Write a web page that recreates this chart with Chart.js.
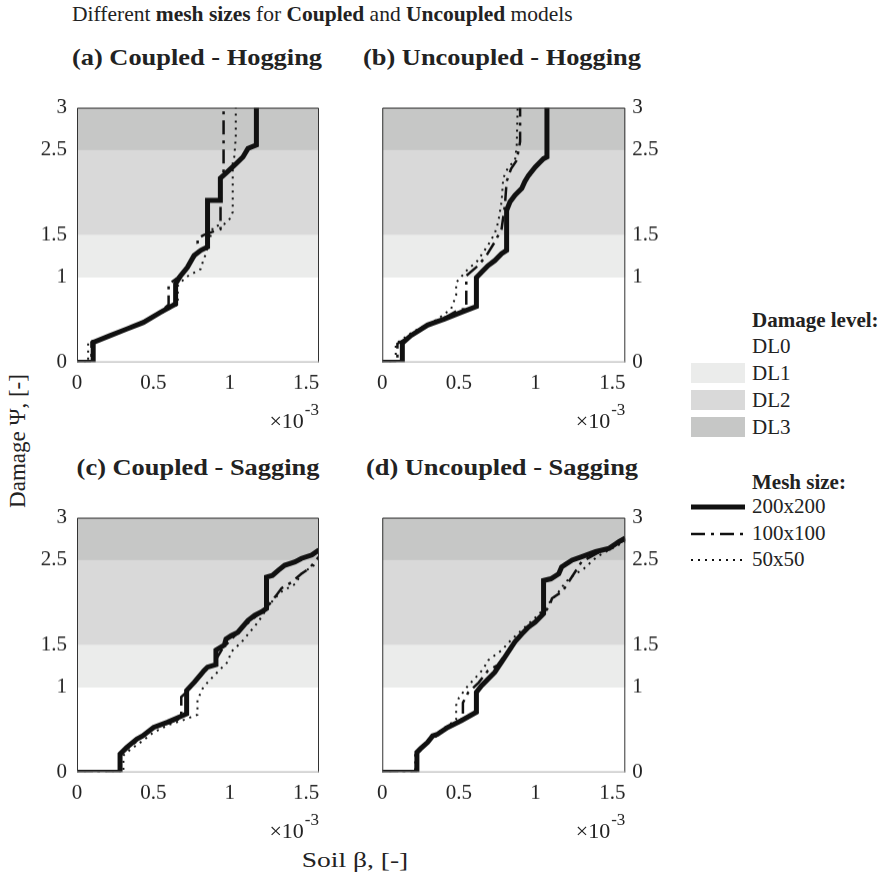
<!DOCTYPE html>
<html>
<head>
<meta charset="utf-8">
<script src="https://cdn.jsdelivr.net/npm/chart.js@4.4.0/dist/chart.umd.min.js"></script>
<style>
  body { margin: 0; background: #fff; width: 885px; height: 889px; position: relative; overflow: hidden;
         font-family: "Liberation Serif", "Times New Roman", serif; color: #222; }
  .txt { position: absolute; white-space: nowrap; line-height: 1; }
  canvas { position: absolute; }
  .sub { font-weight: bold; font-size: 24px; width: 320px; text-align: center; transform: scaleX(1.1); }
  .box { position: absolute; width: 54px; height: 20px; }
</style>
</head>
<body>

<div class="txt" style="left:72px; top:4px; font-size:21.5px;">Different <b>mesh sizes</b> for <b>Coupled</b> and <b>Uncoupled</b> models</div>

<div class="txt sub" style="left:37px; top:45px;">(a) Coupled - Hogging</div>
<div class="txt sub" style="left:342px; top:45px;">(b) Uncoupled - Hogging</div>
<div class="txt sub" style="left:38px; top:455px;">(c) Coupled - Sagging</div>
<div class="txt sub" style="left:342px; top:455px;">(d) Uncoupled - Sagging</div>

<canvas id="chartA" width="297" height="336"></canvas>
<canvas id="chartB" width="298" height="336"></canvas>
<canvas id="chartC" width="297" height="336"></canvas>
<canvas id="chartD" width="298" height="336"></canvas>

<div class="txt" style="left:17px; top:441px; font-size:23px; transform:translate(-50%,-50%) rotate(-90deg);">Damage &Psi;, [-]</div>
<div class="txt" style="left:355px; top:860px; font-size:22px; transform:translate(-50%,-50%) scaleX(1.25);">Soil &beta;, [-]</div>

<div id="legend"></div>

<script>
// axis ticks
const xTicks = [0, 0.5, 1, 1.5];
const yTicks = [0, 1, 1.5, 2.5, 3];
const xMax = 1.585;

// damage level bands
const damageLevels = ['DL0', 'DL1', 'DL2', 'DL3'];
const bandEdges = [0, 1, 1.5, 2.5, 3];
const bandColors = ['#ffffff', '#ebeceb', '#d9d9d9', '#c6c7c6'];

// mesh sizes
const meshSizes = ['200x200', '100x100', '50x50'];

// (a) Coupled - Hogging  [beta x1e-3, damage]
const hogCoupled200 = [[0,0],[0.106,0],[0.106,0.236],[0.216,0.315],[0.326,0.394],[0.436,0.472],[0.547,0.59],[0.646,0.69],[0.646,0.925],[0.679,1.02],[0.723,1.12],[0.767,1.26],[0.811,1.32],[0.855,1.36],[0.855,1.91],[0.939,1.91],[0.939,2.17],[0.97,2.22],[1.03,2.32],[1.087,2.42],[1.12,2.52],[1.175,2.56],[1.175,3]];
const hogCoupled100 = [[0,0],[0.095,0],[0.095,0.236],[0.216,0.32],[0.326,0.40],[0.436,0.48],[0.547,0.6],[0.60,0.68],[0.60,0.92],[0.66,1.0],[0.72,1.12],[0.77,1.24],[0.80,1.32],[0.79,1.40],[0.79,1.46],[0.83,1.50],[0.86,1.52],[0.94,1.57],[0.94,2.17],[0.96,2.25],[0.96,3]];
const hogCoupled50 = [[0,0],[0.073,0],[0.073,0.24],[0.216,0.31],[0.326,0.39],[0.436,0.46],[0.547,0.58],[0.66,0.68],[0.66,0.9],[0.71,1.0],[0.77,1.06],[0.81,1.10],[0.83,1.22],[0.84,1.26],[0.89,1.59],[0.92,1.61],[0.965,1.63],[1.0,1.69],[1.02,1.77],[1.02,2.36],[1.03,2.42],[1.04,2.65],[1.04,3]];

// (b) Uncoupled - Hogging
const hogUncoupled200 = [[0,0],[0.131,0],[0.131,0.228],[0.186,0.315],[0.296,0.44],[0.405,0.51],[0.515,0.59],[0.614,0.66],[0.614,1.0],[0.647,1.06],[0.69,1.14],[0.734,1.20],[0.778,1.28],[0.811,1.32],[0.811,1.79],[0.833,1.89],[0.866,1.97],[0.91,2.05],[0.93,2.13],[0.953,2.2],[0.997,2.30],[1.03,2.36],[1.052,2.40],[1.074,2.42],[1.074,3]];
const hogUncoupled100 = [[0,0],[0.099,0],[0.099,0.22],[0.19,0.32],[0.3,0.45],[0.41,0.53],[0.5,0.62],[0.548,0.63],[0.548,1.02],[0.625,1.14],[0.68,1.26],[0.734,1.42],[0.778,1.57],[0.80,1.85],[0.811,2.13],[0.84,2.28],[0.877,2.38],[0.899,2.6],[0.899,3]];
const hogUncoupled50 = [[0,0],[0.088,0],[0.088,0.22],[0.2,0.36],[0.362,0.51],[0.449,0.63],[0.482,0.79],[0.482,0.94],[0.559,1.10],[0.614,1.18],[0.69,1.38],[0.734,1.52],[0.756,1.65],[0.778,1.89],[0.789,2.17],[0.822,2.30],[0.866,2.38],[0.877,2.56],[0.883,3]];

// (c) Coupled - Sagging
const sagCoupled200 = [[0,0],[0.282,0],[0.282,0.217],[0.326,0.295],[0.392,0.394],[0.43,0.43],[0.502,0.53],[0.591,0.59],[0.668,0.65],[0.718,0.69],[0.718,0.965],[0.767,1.06],[0.833,1.2],[0.855,1.24],[0.91,1.27],[0.91,1.44],[0.965,1.50],[0.976,1.57],[1.01,1.61],[1.053,1.65],[1.12,1.79],[1.164,1.85],[1.208,1.89],[1.241,1.93],[1.241,2.30],[1.28,2.32],[1.318,2.38],[1.36,2.44],[1.428,2.48],[1.47,2.52],[1.538,2.56],[1.585,2.62]];
const sagCoupled100 = [[0,0],[0.28,0],[0.28,0.2],[0.33,0.28],[0.4,0.38],[0.5,0.52],[0.6,0.58],[0.683,0.64],[0.683,0.89],[0.72,0.95],[0.77,1.05],[0.84,1.2],[0.9,1.3],[0.95,1.45],[1.0,1.55],[1.06,1.66],[1.12,1.76],[1.2,1.88],[1.26,1.98],[1.307,2.09],[1.34,2.17],[1.406,2.24],[1.47,2.34],[1.52,2.40],[1.585,2.54]];
const sagCoupled50 = [[0,0],[0.304,0],[0.304,0.2],[0.35,0.27],[0.42,0.36],[0.5,0.47],[0.6,0.56],[0.7,0.62],[0.789,0.68],[0.789,0.85],[0.82,0.98],[0.855,1.06],[0.93,1.2],[0.987,1.30],[1.01,1.42],[1.08,1.54],[1.186,1.77],[1.24,1.92],[1.285,2.03],[1.34,2.13],[1.43,2.22],[1.47,2.34],[1.585,2.48]];

// (d) Uncoupled - Sagging
const sagUncoupled200 = [[0,0],[0.226,0],[0.226,0.236],[0.25,0.28],[0.296,0.354],[0.329,0.43],[0.36,0.45],[0.427,0.53],[0.515,0.61],[0.614,0.71],[0.614,0.945],[0.647,1.02],[0.69,1.1],[0.734,1.18],[0.778,1.3],[0.822,1.42],[0.866,1.54],[0.91,1.63],[0.953,1.71],[0.997,1.77],[1.052,1.87],[1.052,2.26],[1.1,2.28],[1.151,2.34],[1.17,2.42],[1.238,2.5],[1.3,2.54],[1.392,2.6],[1.48,2.64],[1.545,2.72],[1.585,2.76]];
const sagUncoupled100 = [[0,0],[0.22,0],[0.22,0.23],[0.3,0.36],[0.42,0.52],[0.5,0.6],[0.526,0.65],[0.526,0.82],[0.56,0.94],[0.63,1.06],[0.69,1.2],[0.75,1.26],[0.8,1.38],[0.86,1.52],[0.92,1.64],[0.98,1.74],[1.04,1.84],[1.09,1.96],[1.107,2.05],[1.173,2.13],[1.2,2.2],[1.25,2.34],[1.3,2.48],[1.4,2.58],[1.5,2.66],[1.585,2.74]];
const sagUncoupled50 = [[0,0],[0.215,0],[0.215,0.23],[0.3,0.37],[0.4,0.52],[0.482,0.62],[0.482,0.79],[0.5,0.88],[0.559,1.02],[0.6,1.1],[0.66,1.22],[0.69,1.32],[0.734,1.38],[0.78,1.44],[0.84,1.56],[0.9,1.66],[0.96,1.76],[1.02,1.86],[1.08,1.98],[1.14,2.1],[1.195,2.24],[1.23,2.30],[1.28,2.36],[1.315,2.40],[1.4,2.54],[1.5,2.64],[1.585,2.72]];

// line styles per mesh size
const lineStyles = [
    { width: 5, dash: [] },
    { width: 2.5, dash: [14, 6, 3, 6] },
    { width: 2, dash: [2, 5] }
];

// where each plot area sits on the page
const plotBoxes = {
    chartA: { left: 77, top: 108, right: 319, bottom: 362 },
    chartB: { left: 382, top: 108, right: 625, bottom: 362 },
    chartC: { left: 77, top: 518, right: 319, bottom: 772 },
    chartD: { left: 382, top: 518, right: 625, bottom: 772 }
};

const FONT = '"Liberation Serif", "Times New Roman", serif';

// shaded damage bands + frame + x10^-3 note
const damagePlugin = {
    id: 'damageBands',
    beforeDatasetsDraw(chart) {
        const { ctx, chartArea: a, scales: { y } } = chart;
        ctx.save();
        for (let i = 1; i < bandColors.length; i++) {
            const top = y.getPixelForValue(bandEdges[i + 1]);
            const bot = y.getPixelForValue(bandEdges[i]);
            ctx.fillStyle = bandColors[i];
            ctx.fillRect(a.left, top, a.right - a.left, bot - top);
        }
        ctx.restore();
    },
    afterDraw(chart) {
        const { ctx, chartArea: a } = chart;
        ctx.save();
        ctx.lineWidth = 1;
        ctx.strokeStyle = '#333';
        ctx.beginPath();
        ctx.moveTo(a.left + 0.5, a.bottom);
        ctx.lineTo(a.left + 0.5, a.top + 0.5);
        ctx.lineTo(a.right - 0.5, a.top + 0.5);
        ctx.lineTo(a.right - 0.5, a.bottom);
        ctx.stroke();
        ctx.strokeStyle = '#aaa';
        ctx.beginPath();
        ctx.moveTo(a.left, a.bottom - 0.5);
        ctx.lineTo(a.right, a.bottom - 0.5);
        ctx.stroke();

        ctx.fillStyle = '#222';
        ctx.textBaseline = 'alphabetic';
        ctx.textAlign = 'right';
        ctx.font = '17px ' + FONT;
        ctx.fillText('-3', a.right, a.bottom + 52);
        const w = ctx.measureText('-3').width;
        ctx.font = '22px ' + FONT;
        ctx.fillText('\u00d710', a.right - w - 1, a.bottom + 65);
        ctx.restore();
    }
};

function makeChart(id, series, yPos) {
    const datasets = series.map((pts, i) => ({
        label: meshSizes[i],
        data: pts.map(p => ({ x: p[0], y: p[1] })),
        borderColor: '#111',
        borderWidth: lineStyles[i].width,
        borderDash: lineStyles[i].dash,
        borderCapStyle: 'butt',
        borderJoinStyle: 'miter',
        pointRadius: 0,
        tension: 0,
        fill: false,
        order: 3 - i
    }));
    const left = yPos === 'left';
    const chart = new Chart(document.getElementById(id), {
        type: 'line',
        data: { datasets },
        options: {
            responsive: false,
            maintainAspectRatio: false,
            animation: false,
            devicePixelRatio: 1,
            layout: { padding: { top: 12, left: left ? 0 : 10, right: left ? 10 : 0, bottom: 0 } },
            plugins: { legend: { display: false }, tooltip: { enabled: false } },
            scales: {
                x: {
                    type: 'linear', min: 0, max: xMax,
                    afterBuildTicks: s => { s.ticks = xTicks.map(v => ({ value: v })); },
                    afterFit: s => { s.height = 72; },
                    grid: { display: false, drawTicks: false },
                    border: { display: false },
                    ticks: { padding: 8, color: '#222', font: { family: FONT, size: 21 }, maxRotation: 0,
                             callback: v => String(v) }
                },
                y: {
                    type: 'linear', min: 0, max: 3, position: yPos,
                    afterBuildTicks: s => { s.ticks = yTicks.map(v => ({ value: v })); },
                    afterFit: s => { s.width = 45; },
                    grid: { display: false, drawTicks: false },
                    border: { display: false },
                    ticks: { padding: left ? 10 : 7, color: '#222', font: { family: FONT, size: 21 },
                             callback: v => String(v) }
                }
            }
        },
        plugins: [damagePlugin]
    });
    placeChart(chart, plotBoxes[id]);
    return chart;
}

// size and move the canvas so the plot area lands on its box
function placeChart(chart, box) {
    const a = chart.chartArea;
    const w = chart.width + (box.right - box.left) - (a.right - a.left);
    const h = chart.height + (box.bottom - box.top) - (a.bottom - a.top);
    chart.resize(w, h);
    const b = chart.chartArea;
    chart.canvas.style.left = (box.left - b.left) + 'px';
    chart.canvas.style.top = (box.top - b.top) + 'px';
}

makeChart('chartA', [hogCoupled200, hogCoupled100, hogCoupled50], 'left');
makeChart('chartB', [hogUncoupled200, hogUncoupled100, hogUncoupled50], 'right');
makeChart('chartC', [sagCoupled200, sagCoupled100, sagCoupled50], 'left');
makeChart('chartD', [sagUncoupled200, sagUncoupled100, sagUncoupled50], 'right');

// legend
const legend = document.getElementById('legend');
let html = '<div class="txt" style="left:752px; top:310px; font-size:21px; font-weight:bold;">Damage level:</div>';
damageLevels.forEach((name, i) => {
    const top = 336 + i * 27;
    if (i > 0) html += `<div class="box" style="left:691px; top:${top}px; background:${bandColors[i]};"></div>`;
    html += `<div class="txt" style="left:752px; top:${top}px; font-size:21px;">${name}</div>`;
});
html += '<div class="txt" style="left:752px; top:472px; font-size:21px; font-weight:bold;">Mesh size:</div>';
meshSizes.forEach((name, i) => {
    const y = 507 + i * 26.5;
    const st = lineStyles[i];
    html += `<svg style="position:absolute; left:691px; top:${y - 5}px;" width="54" height="10">` +
            `<line x1="0" y1="5" x2="54" y2="5" stroke="#111" stroke-width="${st.width}" stroke-dasharray="${st.dash.join(' ')}"/></svg>`;
    html += `<div class="txt" style="left:752px; top:${y - 11}px; font-size:21px;">${name}</div>`;
});
legend.innerHTML = html;
</script>
</body>
</html>
